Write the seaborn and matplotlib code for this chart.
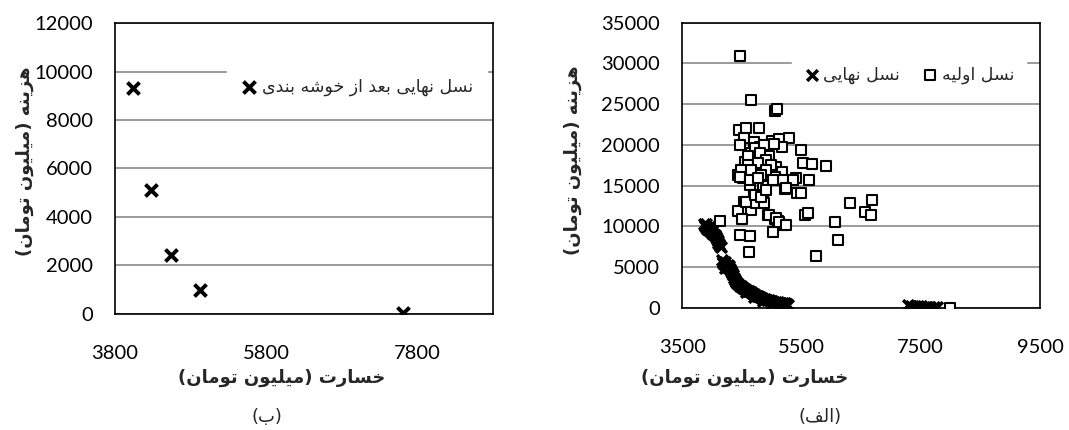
import matplotlib
matplotlib.use('Agg')
import matplotlib.pyplot as plt
import seaborn as sns
import pandas as pd

# Persian labels
ylabel_fa = 'هزینه (میلیون تومان)'
xlabel_fa = 'خسارت (میلیون تومان)'
legend_left_fa = 'نسل نهایی بعد از خوشه بندی'
legend_init_fa = 'نسل اولیه'
legend_final_fa = 'نسل نهایی'
caption_left_fa = '(ب)'
caption_right_fa = '(الف)'

# (ب) final generation after clustering
clust_x = [4040, 4280, 4540, 4930, 7615]
clust_y = [9300, 5100, 2450, 1000, 50]

# (الف) initial generation
init_x = [4470, 4650, 5060, 5080, 4456, 4572, 4794, 4528, 4472, 4694, 4999, 5128, 5295,
          5167, 5483, 4806, 4889, 4650, 4750, 4961, 4794, 4556, 4906, 5528, 5667, 5906,
          4500, 4639, 5072, 4850, 5167, 4433, 4750, 4972, 4517, 5061, 5406, 5628, 5194,
          4639, 4861, 5222, 5428, 4706, 4850, 4539, 4806, 6306, 6683, 4650, 4433, 6556,
          6667, 5556, 4939, 5056, 4500, 4139, 5111, 6056, 5211, 5017, 4472, 4639, 6111,
          4611, 5750, 7990, 4712, 4878, 5045, 4795, 4600, 4907, 4600, 4767, 4990, 4490,
          4657, 4907, 4462, 4823, 4628, 4767, 5017, 5350, 4573, 4740, 4867, 4712, 4823,
          4907, 4962, 5073, 5128, 5240, 5600, 5490, 5240]
init_y = [30900, 25500, 24200, 24400, 21850, 22140, 22050, 20830, 20010, 20420, 20540, 20700,
          20830, 19810, 19400, 19810, 19400, 19070, 18790, 18660, 18050, 17970, 17970, 17770,
          17640, 17360, 16950, 17150, 17240, 17150, 16740, 16340, 16340, 16540, 16010, 16050,
          16010, 15720, 15720, 15110, 14910, 14660, 14170, 13890, 13890, 12990, 12950, 12860,
          13270, 12050, 11840, 11720, 11440, 11440, 11440, 10900, 10900, 10620, 10620, 10540,
          10130, 9270, 8900, 8780, 8290, 6820, 6410, 50, 19590, 20000, 20120, 18980, 18650,
          18160, 17540, 17750, 17540, 16930, 16930, 16930, 16110, 16320, 15700, 15910, 15700,
          15700, 13040, 12840, 12840, 13850, 13650, 14470, 11400, 11000, 10580, 10180, 11610,
          14060, 14680]

# (الف) final generation
final_x = [3860, 3875, 3890, 3905, 3920, 3940, 3955, 3970, 3990, 4005, 4020, 4040, 4060,
           4075, 4090, 4100, 4115, 4130, 4145, 4160, 4175, 4185, 4200, 4215, 4230, 4250,
           4265, 4285, 4300, 4320, 4335, 4350, 4365, 4380, 4400, 4420, 4440, 4460, 4480,
           4500, 4525, 4550, 4575, 4600, 4625, 4650, 4675, 4700, 4725, 4750, 4775, 4800,
           4830, 4860, 4890, 4920, 4950, 4980, 5010, 5040, 5070, 5100, 5130, 5160, 5190,
           5220, 5250, 5280, 4210, 4290, 4560, 4700, 4850, 5000, 7280, 7340, 7400, 7450,
           7500, 7560, 7610, 7660, 7720, 7770]
final_y = [10350, 10100, 10250, 9900, 9750, 9950, 9600, 9400, 9500, 9200, 9050, 8900, 8700,
           8450, 8200, 8000, 7800, 7600, 7450, 5900, 5700, 5500, 5350, 5600, 5200, 5050,
           5300, 4950, 4800, 4600, 4300, 4000, 3700, 3450, 3250, 3100, 2900, 2750, 2650,
           2550, 2450, 2350, 2200, 2100, 2050, 1950, 1850, 1700, 1600, 1500, 1450, 1350,
           1250, 1150, 1100, 1000, 950, 880, 820, 780, 720, 680, 650, 620, 600,
           560, 500, 420, 4900, 5100, 2000, 1400, 900, 650, 350, 300, 280, 250,
           200, 180, 150, 120, 100, 80]

# presentation forms (isolated, final, initial, medial) for manual shaping
FORMS = {
    'ا': ('\uFE8D', '\uFE8E', None, None),
    'ب': ('\uFE8F', '\uFE90', '\uFE91', '\uFE92'),
    'ت': ('\uFE95', '\uFE96', '\uFE97', '\uFE98'),
    'خ': ('\uFEA5', '\uFEA6', '\uFEA7', '\uFEA8'),
    'د': ('\uFEA9', '\uFEAA', None, None),
    'ر': ('\uFEAD', '\uFEAE', None, None),
    'ز': ('\uFEAF', '\uFEB0', None, None),
    'س': ('\uFEB1', '\uFEB2', '\uFEB3', '\uFEB4'),
    'ش': ('\uFEB5', '\uFEB6', '\uFEB7', '\uFEB8'),
    'ع': ('\uFEC9', '\uFECA', '\uFECB', '\uFECC'),
    'ف': ('\uFED1', '\uFED2', '\uFED3', '\uFED4'),
    'ل': ('\uFEDD', '\uFEDE', '\uFEDF', '\uFEE0'),
    'م': ('\uFEE1', '\uFEE2', '\uFEE3', '\uFEE4'),
    'ن': ('\uFEE5', '\uFEE6', '\uFEE7', '\uFEE8'),
    'ه': ('\uFEE9', '\uFEEA', '\uFEEB', '\uFEEC'),
    'و': ('\uFEED', '\uFEEE', None, None),
    'ی': ('\uFEEF', '\uFEF0', '\uFEF3', '\uFEF4'),
}


def fa(text):
    out = []
    for i, ch in enumerate(text):
        if ch not in FORMS:
            out.append(ch)
            continue
        prev = text[i - 1] if i > 0 else ''
        nxt = text[i + 1] if i + 1 < len(text) else ''
        jp = prev in FORMS and FORMS[prev][2] is not None
        jn = nxt in FORMS and FORMS[ch][2] is not None
        f = FORMS[ch]
        out.append(f[3] if jp and jn else f[1] if jp else f[2] if jn else f[0])
    mirror = {'(': ')', ')': '('}
    return ''.join(mirror.get(c, c) for c in reversed(out))


sns.set_style('white')
plt.rcParams['font.family'] = ['Lato', 'DejaVu Sans']
FA_FONT = ['DejaVu Sans']

fig = plt.figure(figsize=(10.69, 4.30), dpi=100)
ax_l = fig.add_axes([0.1076, 0.2698, 0.3536, 0.6767])
ax_r = fig.add_axes([0.6383, 0.2837, 0.3346, 0.6635])

df_clust = pd.DataFrame({'x': clust_x, 'y': clust_y})
df_init = pd.DataFrame({'x': init_x, 'y': init_y})
df_final = pd.DataFrame({'x': final_x, 'y': final_y})

sns.scatterplot(data=df_clust, x='x', y='y', ax=ax_l, marker='x', color='black',
                s=75, linewidth=2.8, label=fa(legend_left_fa), zorder=3)

sns.scatterplot(data=df_final, x='x', y='y', ax=ax_r, marker='x', color='black',
                s=60, linewidth=2.5, label=fa(legend_final_fa), zorder=3)
sns.scatterplot(data=df_init, x='x', y='y', ax=ax_r, marker='s', facecolor='white',
                edgecolor='black', s=52, linewidth=1.5, label=fa(legend_init_fa), zorder=4)

for ax, xlim, ylim, xt, yt in [
    (ax_l, (3800, 8800), (0, 12000), [3800, 5800, 7800], range(0, 12001, 2000)),
    (ax_r, (3500, 9500), (0, 35000), [3500, 5500, 7500, 9500], range(0, 35001, 5000)),
]:
    ax.set_xlim(*xlim)
    ax.set_ylim(*ylim)
    ax.set_xticks(xt)
    ax.set_yticks(list(yt))
    ax.grid(axis='y', color='#8a8a8a', linewidth=1.2, zorder=0)
    ax.set_axisbelow(True)
    for sp in ax.spines.values():
        sp.set_visible(True)
        sp.set_color('black')
        sp.set_linewidth(1.2)
    ax.tick_params(axis='both', length=0, labelsize=14.5, colors='black')
    ax.tick_params(axis='x', pad=22)
    ax.tick_params(axis='y', pad=16)
    ax.set_xlabel('')
    ax.set_ylabel('')

ax_l.legend(loc='center', bbox_to_anchor=(0.64, 0.78), frameon=True, facecolor='white',
            edgecolor='white', framealpha=1, prop={'family': FA_FONT, 'size': 12.5},
            handletextpad=0.3, borderpad=0.8, handlelength=0.9)
h, l = ax_r.get_legend_handles_labels()
ax_r.legend(h, l, loc='center', bbox_to_anchor=(0.634, 0.817), ncol=2, frameon=True,
            facecolor='white', edgecolor='white', framealpha=1,
            prop={'family': FA_FONT, 'size': 12.5}, handletextpad=0.2,
            columnspacing=1.3, borderpad=0.7, handlelength=0.9)

# axis titles and captions
fig.text(0.0234, 0.6256, fa(ylabel_fa), rotation=90, ha='center', va='center',
         family=FA_FONT, fontsize=13, fontweight='bold')
fig.text(0.536, 0.628, fa(ylabel_fa), rotation=90, ha='center', va='center',
         family=FA_FONT, fontsize=13, fontweight='bold')
fig.text(0.2638, 0.121, fa(xlabel_fa), ha='center', va='center',
         family=FA_FONT, fontsize=13, fontweight='bold')
fig.text(0.697, 0.121, fa(xlabel_fa), ha='center', va='center',
         family=FA_FONT, fontsize=13, fontweight='bold')
fig.text(0.2498, 0.030, fa(caption_left_fa), ha='center', va='center',
         family=FA_FONT, fontsize=13)
fig.text(0.767, 0.030, fa(caption_right_fa), ha='center', va='center',
         family=FA_FONT, fontsize=13)

fig.savefig('out.png', dpi=100)
